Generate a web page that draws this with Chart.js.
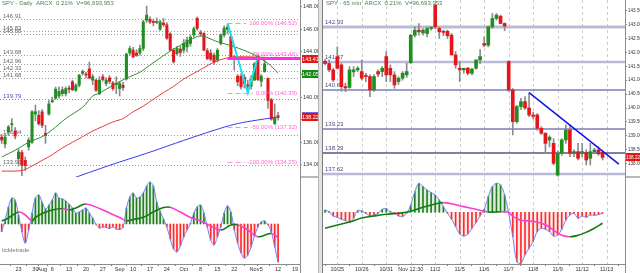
<!DOCTYPE html>
<html>
<head>
<meta charset="utf-8">
<script src="https://cdn.jsdelivr.net/npm/chart.js@4.4.1/dist/chart.umd.min.js"></script>
<style>
  body { margin: 0; background: #fff; font-family: "Liberation Sans", Arial, sans-serif; }
  #wrap { position: relative; width: 640px; height: 273px; overflow: hidden; background: #fff; }
  canvas { position: absolute; }
  .txt { position: absolute; font-size: 6px; line-height: 7px; white-space: nowrap; }
  .ln { position: absolute; }
</style>
</head>
<body>
<div id="wrap">
  <canvas id="leftPrice" width="320" height="177" style="left:0px;top:0px"></canvas>
  <canvas id="leftOsc" width="320" height="95" style="left:0px;top:178px"></canvas>
  <canvas id="rightPrice" width="318" height="177" style="left:322px;top:0px"></canvas>
  <canvas id="rightOsc" width="318" height="95" style="left:322px;top:178px"></canvas>

  <div class="ln" style="left:300px;top:0px;width:1px;height:273px;background:#8c8c8c"></div>
  <div class="ln" style="left:318px;top:0px;width:3px;height:273px;background:#e2e2e2;border-left:1px solid #b4b4b4"></div>
  <div class="ln" style="left:322px;top:0px;width:1px;height:273px;background:#7a7a7a"></div>
  <div class="ln" style="left:625px;top:0px;width:1px;height:273px;background:#8c8c8c"></div>
  <div class="ln" style="left:301px;top:176px;width:17px;height:2px;background:#b8b8b8"></div>
  <div class="ln" style="left:626px;top:176px;width:14px;height:2px;background:#b8b8b8"></div>

  <div class="txt" style="left:2px;top:0px;color:#4d7f4d">SPY - Daily &nbsp;ARCX &nbsp;0.21% &nbsp;V=96,693,953</div>
  <div class="txt" style="left:326px;top:0px;color:#4d7f4d">SPY - 65 min &nbsp;ARCX &nbsp;0.21% &nbsp;V=96,693,953</div>
  <div class="txt" style="left:2px;top:247px;color:#777">tickletrade</div>
</div>
<script>
// ---------- left pane: SPY daily (slot 0 = Jul 16) ----------
const daySlots = 89;
const dayTickSlots = [5, 10, 12, 15, 20, 25, 30, 35, 39, 44, 49, 54, 59, 64, 69, 75, 77, 82, 87];
const dayTickText = ['23', '30', 'Aug', '6', '13', '20', '27', 'Sep', '10', '17', '24', 'Oct', '8', '15', '22', 'Nov', '5', '12', '19'];

const dOpen = [136.45, 135.85, 136.9, 137.55, 137.0, 134.55, 135.1, 134.4, 135.6, 136.0,
  138.5, 138.4, 138.7, 136.8, 138.5, 139.6, 139.9, 140.1, 140.3, 140.3,
  140.8, 141.35, 140.6, 141.05, 142.1, 142.0, 142.5, 141.5, 141.5, 140.3,
  141.8, 141.2, 141.7, 141.25, 141.1, 140.75, 141.05, 141.6, 143.9, 144.15,
  143.9, 143.9, 144.3, 146.8, 146.9, 146.7, 146.6, 146.0, 146.55, 146.4,
  145.6, 144.15, 143.85, 144.25, 144.15, 144.45, 144.75, 145.5, 146.96, 145.7,
  145.63, 144.1, 143.9, 143.7, 143.3, 144.75, 145.5, 146.0, 145.35, 143.55,
  141.85, 141.85, 141.75, 141.1, 140.95, 141.5, 143.65, 141.4, 142.25, 141.65,
  139.75, 137.65, 138.35];
const dHigh = [136.7, 136.7, 137.5, 138.1, 137.3, 135.4, 135.3, 134.7, 136.4, 138.8,
  139.3, 138.8, 138.9, 137.5, 139.7, 140.0, 140.9, 140.9, 140.9, 140.9,
  141.0, 141.5, 141.2, 142.0, 142.4, 142.2, 143.1, 142.0, 141.6, 141.8,
  142.0, 141.7, 141.9, 141.4, 141.8, 141.4, 141.3, 143.9, 144.5, 144.4,
  144.2, 144.6, 146.8, 148.05, 147.1, 146.9, 147.0, 146.8, 146.95, 146.6,
  145.7, 144.3, 144.5, 144.5, 145.1, 145.3, 145.5, 146.2, 147.1, 145.9,
  145.7, 144.3, 144.2, 143.9, 144.3, 145.6, 146.3, 146.4, 145.5, 143.7,
  142.0, 142.05, 142.0, 141.5, 141.9, 143.05, 143.75, 142.0, 143.4, 141.7,
  139.9, 139.4, 138.65];
const dLow = [135.9, 135.5, 136.6, 137.0, 136.3, 133.9, 133.05, 133.5, 135.3, 135.9,
  137.9, 137.5, 137.3, 135.9, 138.4, 139.5, 139.8, 139.9, 140.1, 140.1,
  140.4, 140.55, 140.5, 140.9, 141.95, 141.7, 141.6, 141.1, 140.5, 140.2,
  141.4, 141.0, 141.2, 140.6, 140.3, 140.1, 140.6, 141.5, 143.7, 143.5,
  143.6, 143.7, 144.1, 146.6, 146.5, 146.3, 146.5, 145.9, 146.25, 145.1,
  144.1, 143.0, 143.7, 143.6, 143.9, 144.0, 144.5, 145.3, 145.9, 145.4,
  144.1, 143.3, 143.2, 142.9, 143.1, 144.6, 145.3, 145.6, 143.45, 142.4,
  141.0, 140.7, 140.8, 140.3, 140.7, 141.45, 141.45, 140.95, 142.2, 139.0,
  137.95, 137.55, 137.95];
const dClose = [136.2, 136.45, 137.35, 137.65, 136.55, 135.15, 133.95, 133.95, 136.2, 138.7,
  138.7, 137.65, 137.5, 136.6, 139.4, 139.7, 140.7, 140.5, 140.65, 140.75,
  140.7, 140.65, 141.05, 141.95, 142.25, 141.95, 141.7, 141.8, 140.6, 141.5,
  141.55, 141.5, 141.4, 140.75, 141.2, 141.2, 140.85, 143.8, 144.3, 143.55,
  143.7, 144.3, 146.65, 147.25, 146.65, 146.6, 146.7, 146.65, 146.4, 145.2,
  144.15, 143.12, 144.3, 143.95, 144.75, 145.05, 145.3, 146.05, 146.08, 145.6,
  144.15, 143.4, 143.35, 143.1, 144.15, 145.5, 146.1, 146.2, 143.55, 143.45,
  141.35, 140.9, 141.2, 140.95, 141.55, 142.95, 141.55, 141.85, 142.95, 139.7,
  138.05, 138.15, 138.22];

// moving averages: [slot, price]
const ma20 = [[0, 134.7], [4, 135.3], [8, 136.0], [12, 136.5], [15, 137.1], [19, 138.1], [24, 139.1],
  [27, 140.1], [29, 140.35], [33, 141.05], [37, 141.67], [41, 142.2], [44, 142.83], [49, 143.87],
  [54, 144.75], [59, 145.4], [64, 144.9], [69, 144.45], [74, 143.87], [79, 142.98], [82, 142.14]];
const ma50 = [[0, 133.45], [6, 133.5], [9, 133.9], [12, 134.4], [15, 134.9], [18, 135.5], [21, 136.0],
  [24, 136.5], [27, 137.0], [30, 137.4], [33, 137.8], [36, 138.1], [39, 138.7], [42, 139.2], [45, 139.8],
  [48, 140.4], [51, 140.95], [54, 141.6], [57, 142.1], [60, 142.6], [63, 143.1], [66, 143.4], [69, 143.55],
  [75, 143.55], [82, 143.45]];
const ma200 = [[20, 132.7], [32, 133.96], [44, 135.13], [54, 136.17], [63, 137.06], [69, 137.59],
  [74, 137.88], [82, 138.24]];
const swing = [[67, 146.53], [73, 140.37], [76, 143.56]];

const leftLevels = [146.91, 145.83, 145.55, 143.68, 142.96, 142.33, 141.68, 139.79, 136.64, 133.96];
const fibPct = ['100.00%', '50.00%', '0.00%', '-50.00%', '-100.00%'];
const fibValue = [146.52, 143.46, 140.39, 137.32, 134.25];
const leftPriceTicks = [148, 146, 144, 142, 140, 138, 136, 134];
const leftTags = [143.41, 142.05, 138.22];  // red MA, green MA, last price

const dHist = [-0.77, 0.4, 1.7, 2.6, 2.4, 0.9, -0.8, -1.9, -0.6, 1.1,
  2.6, 2.9, 2.2, 1.5, 1.9, 2.4, 3.1, 2.6, 2.5, 2.3,
  2.0, 1.6, 1.1, 1.2, 1.4, 1.6, 1.1, 0.6, -0.05, -0.4,
  -0.3, -0.35, -0.45, -0.3, -0.5, -0.55, -0.35, 1.6, 2.7, 3.1,
  2.6, 2.7, 3.1, 3.8, 4.2, 3.8, 2.2, 1.3, 0.5, -0.3,
  -1.5, -2.5, -2.8, -2.2, -1.3, -0.6, 0.05, 1.1, 1.7, 1.9,
  1.1, -0.3, -1.6, -2.1, -1.3, -0.3, 1.1, 1.8, 1.2, -0.6,
  -1.9, -2.9, -3.4, -3.1, -2.3, -1.2, -0.3, 0.2, 0.3, -0.1,
  -0.8, -2.3, -3.8];
const dSignal = [[0, 0.3], [2, 0.6], [5, 1.2], [7, 0.9], [9, 0.3], [10, 0.65], [12, 1.05], [15, 1.4],
  [18, 1.55], [20, 1.4], [22, 1.6], [25, 2.0], [29, 1.55], [32, 1.1], [35, 0.65], [37, 0.33], [39, 0.45],
  [42, 0.67], [45, 1.2], [48, 1.65], [50, 1.67], [53, 1.2], [56, 0.65], [59, 0.3], [62, -0.2], [65, -0.6],
  [68, -0.1], [70, -0.08], [73, -0.6], [76, -1.27], [79, -1.0], [80, -0.95], [82, -1.33]];

// ---------- right pane: SPY 65 min (slot 0 = last bars of 10/24) ----------
const hourSlots = 74;
const hourTickSlots = [3, 9, 15, 21, 27, 33, 39, 45, 51, 57, 63, 69];
const hourTickText = ['10/25', '10/26', '10/31', 'Nov 12:30', '11/2', '11/5', '11/6', '11/7', '11/8', '11/9', '11/12', '11/13'];

const hOpen = [141.68, 141.6, 141.37, 141.85, 141.55, 140.77, 140.74, 141.3, 141.37, 141.31,
  141.17, 141.13, 140.65, 141.31, 141.31, 141.85, 141.43, 141.19, 140.95, 141.07,
  141.19, 141.63, 142.62, 142.8, 142.7, 142.68, 142.86, 143.7, 142.86, 142.76,
  142.76, 142.62, 141.91, 141.43, 141.37, 141.43, 141.25, 141.43, 141.73, 142.32,
  142.26, 142.92, 143.22, 143.3, 143.04, 141.67, 140.65, 139.51, 140.05, 140.23,
  140.0, 139.75, 139.75, 139.27, 139.09, 138.85, 138.73, 137.59, 138.37, 138.85,
  139.21, 138.37, 138.43, 138.37, 138.4, 138.19, 138.43, 138.49, 138.4];
const hHigh = [141.75, 141.73, 141.43, 142.2, 141.6, 140.89, 141.49, 141.49, 141.49, 141.73,
  141.25, 141.19, 141.2, 141.37, 141.49, 142.03, 141.55, 141.31, 141.13, 141.31,
  141.61, 142.65, 142.92, 143.04, 142.85, 142.92, 142.92, 143.72, 142.92, 142.8,
  142.8, 142.68, 142.03, 141.67, 141.43, 141.46, 141.43, 141.73, 142.1, 142.56,
  142.95, 143.4, 143.4, 143.34, 143.06, 141.7, 140.7, 140.1, 140.35, 140.41,
  140.55, 139.85, 139.8, 139.33, 139.12, 139.0, 138.9, 138.45, 138.9, 139.39,
  139.39, 138.5, 138.73, 138.73, 138.5, 138.73, 138.55, 138.6, 138.45];
const hLow = [141.55, 141.31, 140.95, 141.4, 140.6, 140.59, 140.71, 141.13, 141.3, 141.01,
  140.95, 140.41, 140.6, 141.13, 141.13, 140.95, 140.95, 140.71, 140.85, 141.0,
  141.1, 141.6, 142.55, 142.62, 142.62, 142.56, 142.8, 142.85, 142.5, 142.6,
  142.5, 141.9, 141.43, 140.95, 141.25, 141.19, 141.19, 141.4, 141.6, 142.2,
  142.2, 142.86, 143.16, 143.04, 142.78, 140.6, 139.03, 139.45, 139.95, 139.95,
  139.69, 139.6, 139.2, 139.05, 138.37, 138.6, 137.95, 137.55, 138.3, 138.73,
  138.25, 138.25, 138.13, 138.25, 137.95, 137.95, 138.35, 138.3, 138.13];
const hClose = [141.6, 141.37, 141.01, 141.43, 140.77, 140.72, 141.37, 141.37, 141.43, 141.07,
  141.13, 140.65, 141.13, 141.22, 141.43, 141.19, 141.19, 140.83, 141.07, 141.25,
  141.31, 142.62, 142.8, 142.74, 142.8, 142.86, 142.9, 142.92, 142.74, 142.72,
  142.6, 141.91, 141.55, 141.37, 141.43, 141.25, 141.4, 141.73, 141.85, 142.26,
  142.92, 143.22, 143.34, 143.04, 142.95, 140.65, 139.51, 140.05, 140.23, 140.0,
  139.75, 139.7, 139.27, 139.09, 138.73, 138.95, 138.01, 138.37, 138.85, 139.21,
  138.37, 138.43, 138.19, 138.43, 138.13, 138.43, 138.49, 138.35, 138.22];
const trendLine = [[50, 140.55], [72, 137.98]];
const rightLevels = [142.93, 141.67, 140.64, 139.23, 138.39, 137.62];
const rightPriceTicks = [143.5, 143, 142.5, 142, 141.5, 141, 140.5, 140, 139.5, 139, 138.5, 138];
const rightTags = [138.22];

const hHist = [0.23, 0.07, -0.37, -0.5, -0.7, -0.83, -1.03, -0.6, 0.17, 0.13,
  -0.1, -0.37, -0.27, -0.1, 0.3, 0.37, 0.07, -0.1, -0.37, -0.43,
  -0.1, 0.73, 2.07, 2.9, 2.57, 2.23, 1.97, 1.73, 1.23, 0.57,
  -0.1, -0.7, -1.43, -2.17, -2.37, -2.17, -1.6, -1.03, -0.37, 0.3,
  1.57, 2.57, 2.9, 2.73, 1.73, -0.1, -2.43, -4.93, -5.1, -4.27,
  -3.6, -2.93, -1.93, -1.6, -1.7, -1.93, -2.37, -2.27, -1.7, -0.77,
  -0.27, -0.1, -0.6, -0.37, -0.5, -0.27, -0.3, -0.23, -0.1];
const hSignal = [[0, -1.6], [3, -1.27], [6, -0.97], [9, -0.57], [12, -0.37], [15, -0.2], [18, -0.1],
  [21, 0.1], [24, 0.5], [27, 0.83], [29, 0.97], [31, 0.85], [34, 0.57], [37, 0.3], [40, 0.03], [43, 0.05],
  [45, 0.0], [46, -0.4], [48, -0.8], [51, -0.9], [54, -1.25], [56, -1.8], [58, -2.3], [60, -2.45],
  [62, -2.3], [64, -2.0], [66, -1.6], [68, -1.1]];

// ---------- drawing ----------
const FONT = '"Liberation Sans", Arial, sans-serif';
Chart.defaults.font.family = FONT;
Chart.defaults.font.size = 6;
Chart.defaults.color = '#333';
Chart.defaults.animation = false;
Chart.defaults.plugins.legend.display = false;
Chart.defaults.plugins.tooltip.enabled = false;

const UP = '#1f8f1f', DOWN = '#e4161b';
const pts = arr => arr.map(p => ({ x: p[0], y: p[1] }));
const slotsOf = n => Array.from({ length: n }, (_, i) => i);

function candles(o, h, l, c, bodyW) {
  return [
    { type: 'bar', data: o.map((v, i) => [v, c[i]]), grouped: false, order: 2,
      barPercentage: 1, categoryPercentage: 1, maxBarThickness: bodyW, minBarLength: 1,
      backgroundColor: o.map((v, i) => c[i] >= v ? UP : DOWN) },
    { type: 'bar', data: l.map((v, i) => [v, h[i]]), grouped: false, order: 3,
      barPercentage: 1, categoryPercentage: 1, maxBarThickness: 1, backgroundColor: '#8a8a8a' }
  ];
}

function line(data, color, width, extra) {
  return Object.assign({ type: 'line', data: pts(data), borderColor: color, borderWidth: width,
    pointRadius: 0, tension: 0.3, order: 1 }, extra || {});
}

function hline(ctx, x1, x2, y, color, width, dash) {
  ctx.save();
  ctx.strokeStyle = color; ctx.lineWidth = width; ctx.setLineDash(dash || []);
  ctx.beginPath(); ctx.moveTo(x1, y); ctx.lineTo(x2, y); ctx.stroke();
  ctx.restore();
}

function tag(ctx, left, width, y, bg, text, size) {
  ctx.save();
  ctx.fillStyle = bg; ctx.fillRect(left, Math.round(y) - 4, width, 8);
  ctx.fillStyle = '#fff'; ctx.font = size + 'px ' + FONT;
  ctx.textAlign = 'center'; ctx.textBaseline = 'middle';
  ctx.fillText(text, left + width / 2, Math.round(y) + 0.5);
  ctx.restore();
}

function dayLines(chart) {
  const { ctx, chartArea: a, scales: { x } } = chart;
  hourTickSlots.forEach(s => {
    const px = Math.round(x.getPixelForValue(s)) + 0.5;
    ctx.save();
    ctx.strokeStyle = '#cdcdcd'; ctx.lineWidth = 1; ctx.setLineDash([3, 3]);
    ctx.beginPath(); ctx.moveTo(px, a.top); ctx.lineTo(px, a.bottom); ctx.stroke();
    ctx.restore();
  });
}

function priceOptions(n, min, max, ticks, axisW, padLeft, fontSize) {
  return {
    responsive: false, devicePixelRatio: 1,
    layout: { padding: { left: padLeft, right: 0, top: 0, bottom: 0 } },
    scales: {
      x: { type: 'linear', display: false, min: -0.5, max: n - 0.5, offset: false },
      y: { position: 'right', min: min, max: max,
        afterBuildTicks: s => { s.ticks = ticks.map(v => ({ value: v })); },
        afterFit: s => { s.width = axisW; s.paddingTop = 0; s.paddingBottom = 0; },
        ticks: { padding: 1, font: { size: fontSize }, color: '#333', callback: v => v.toFixed(2) },
        grid: { drawOnChartArea: false, tickLength: 2, color: '#888' },
        border: { display: false } }
    }
  };
}

function oscOptions(n, min, max, tickSlots, tickText, padLeft, padRight) {
  return {
    responsive: false, devicePixelRatio: 1,
    layout: { padding: { left: padLeft, right: padRight, top: 0, bottom: 0 } },
    scales: {
      x: { type: 'linear', min: -0.5, max: n - 0.5, offset: false,
        afterBuildTicks: s => { s.ticks = tickSlots.map(v => ({ value: v })); },
        afterFit: s => { s.height = 9; s.paddingLeft = 0; s.paddingRight = 0; },
        ticks: { padding: 0, maxRotation: 0, autoSkip: false, font: { size: 5.5 }, color: '#333',
          callback: v => tickText[tickSlots.indexOf(v)] },
        grid: { drawOnChartArea: false, tickLength: 2, color: '#777' },
        border: { display: true, color: '#8c8c8c' } },
      y: { display: false, min: min, max: max }
    }
  };
}

function oscSets(hist, signal) {
  return [
    { type: 'bar', data: hist, barThickness: 1, order: 3,
      backgroundColor: hist.map(v => v >= 0 ? '#1e7a1e' : '#ff2424') },
    { type: 'line', data: hist, borderColor: '#6f84ff', borderWidth: 1, pointRadius: 0, tension: 0.35, order: 2,
      fill: { target: 'origin', above: 'rgba(70,150,70,0.16)', below: 'rgba(255,90,90,0.12)' } },
    line(signal, '#117a11', 1.6, { tension: 0.4, order: 1,
      segment: { borderColor: c => c.p1.parsed.y >= c.p0.parsed.y ? '#127c12' : '#ff3cd2' } })
  ];
}

// left price pane
new Chart(document.getElementById('leftPrice'), {
  type: 'bar',
  data: {
    labels: slotsOf(daySlots),
    datasets: [
      ...candles(dOpen, dHigh, dLow, dClose, 2.4),
      line(ma20, '#2f8a2f', 1),
      line(ma50, '#e83a3a', 1),
      line(ma200, '#3a3aee', 1),
      line(swing, '#19e0f0', 2, { tension: 0, order: 0 })
    ]
  },
  options: priceOptions(daySlots, 132.93, 148.59, leftPriceTicks, 20, 0, 5.5),
  plugins: [{
    id: 'leftDecor',
    beforeDatasetsDraw(chart) {
      const { ctx, chartArea: a, scales: { y } } = chart;
      ctx.save();
      ctx.font = '6px ' + FONT;
      leftLevels.forEach(v => {
        const py = Math.round(y.getPixelForValue(v)) + 0.5;
        const blue = v === 139.79;
        hline(ctx, a.left, a.right, py, blue ? '#8080d8' : '#9a9a9a', 1, [1, 2]);
        ctx.fillStyle = blue ? '#5252b4' : '#666';
        ctx.fillText(v.toFixed(2), a.left + 3, py - 2);
      });
      ctx.restore();
    },
    afterDatasetsDraw(chart) {
      const { ctx, chartArea: a, scales: { x, y } } = chart;
      const x0 = x.getPixelForValue(swing[0][0]);
      ctx.save();
      ctx.font = '6px ' + FONT;
      ctx.textAlign = 'right';
      fibValue.forEach((v, i) => {
        const py = Math.round(y.getPixelForValue(v)) + 0.5;
        const text = fibPct[i] + ' (' + v.toFixed(2) + ')';
        const tw = ctx.measureText(text).width;
        ctx.fillStyle = '#ff66d0';
        if (fibPct[i] === '50.00%') {
          hline(ctx, x0, a.right, py, '#ff2ee0', 3);
          ctx.textBaseline = 'alphabetic';
          ctx.fillText(text, a.right - 3, py - 3);
        } else {
          hline(ctx, x0, a.right - tw - 6, py, '#ff88dd', 1, [5, 3]);
          ctx.textBaseline = 'middle';
          ctx.fillText(text, a.right - 3, py);
        }
      });
      ctx.restore();
      const colors = ['#e01818', '#168a16', '#e01818'];
      leftTags.forEach((v, i) => tag(ctx, a.right + 2, 17, y.getPixelForValue(v), colors[i], v.toFixed(2), 5.5));
      const py = Math.round(y.getPixelForValue(leftTags[2])) - 4;
      hline(ctx, a.right + 2, a.right + 19, py, '#3a3aee', 1.5);
    }
  }]
});

// left oscillator
new Chart(document.getElementById('leftOsc'), {
  type: 'bar',
  data: { labels: slotsOf(daySlots), datasets: oscSets(dHist, dSignal) },
  options: oscOptions(daySlots, -4.0, 4.6, dayTickSlots, dayTickText, 0, 20)
});

// right price pane
new Chart(document.getElementById('rightPrice'), {
  type: 'bar',
  data: {
    labels: slotsOf(hourSlots),
    datasets: [
      ...candles(hOpen, hHigh, hLow, hClose, 3),
      line(trendLine, '#1010e8', 1.5, { tension: 0, order: 0 })
    ]
  },
  options: priceOptions(hourSlots, 137.518, 143.885, rightPriceTicks, 15, 1, 4.6),
  plugins: [{
    id: 'rightDecor',
    beforeDatasetsDraw(chart) {
      const { ctx, chartArea: a, scales: { y } } = chart;
      dayLines(chart);
      const style = {
        142.93: ['#b9b9d8', 3], 141.67: ['#b9b9d8', 2.5], 140.64: ['#7c7cb8', 1.5],
        139.23: ['#7c7cb8', 1.5], 138.39: ['#55558f', 1.5], 137.62: ['#b9b9d8', 2.5]
      };
      ctx.save();
      ctx.font = '6px ' + FONT;
      rightLevels.forEach(v => {
        const py = Math.round(y.getPixelForValue(v));
        hline(ctx, a.left, a.right, py, style[v][0], style[v][1]);
        ctx.fillStyle = '#4a4a80';
        ctx.fillText(v.toFixed(2), a.left + 2, py - 3);
      });
      ctx.restore();
    },
    afterDatasetsDraw(chart) {
      const { ctx, chartArea: a, scales: { y } } = chart;
      rightTags.forEach(v => tag(ctx, a.right + 1, 14, y.getPixelForValue(v), '#e01818', v.toFixed(2), 4.6));
    }
  }]
});

// right oscillator
new Chart(document.getElementById('rightOsc'), {
  type: 'bar',
  data: { labels: slotsOf(hourSlots), datasets: oscSets(hHist, hSignal) },
  options: oscOptions(hourSlots, -5.17, 3.43, hourTickSlots, hourTickText, 1, 15),
  plugins: [{ id: 'rightGrid', beforeDatasetsDraw: dayLines }]
});
</script>
</body>
</html>
